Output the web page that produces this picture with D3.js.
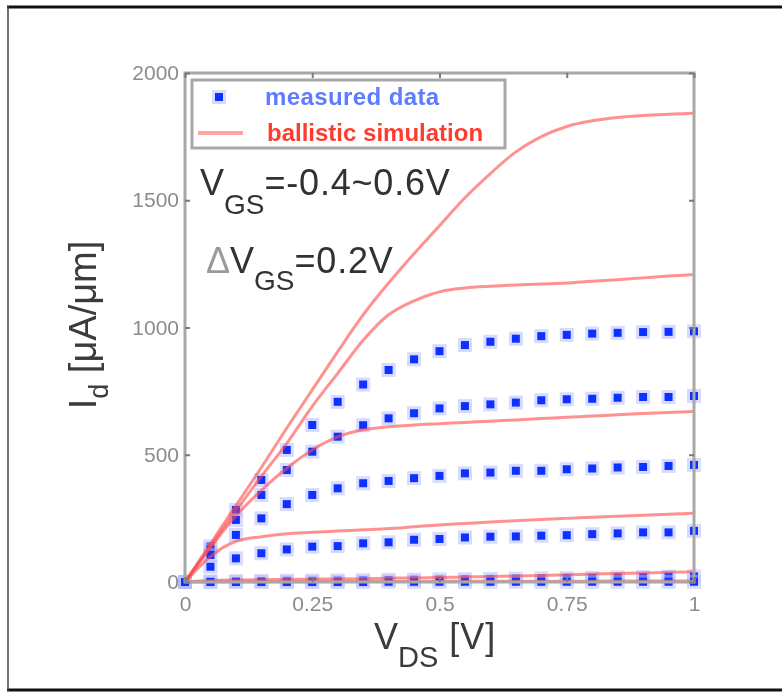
<!DOCTYPE html>
<meta charset="utf-8">
<title>Id-Vds ballistic</title>
<style>
  body { margin: 0; background: #fff; }
  svg { display: block; font-family: "Liberation Sans", Arial, sans-serif; }
  .tick text { fill: #8c8c8c; font-size: 21px; }
  .tick line { stroke: #7a7a7a; stroke-width: 2px; }
</style>
<body>
<div id="chart"></div>
<script src="https://d3js.org/d3.v7.min.js"></script>
<script>

// drain voltage points (V)
var vds = [0, 0.05, 0.1, 0.15, 0.2, 0.25, 0.3, 0.35, 0.4, 0.45, 0.5,
           0.55, 0.6, 0.65, 0.7, 0.75, 0.8, 0.85, 0.9, 0.95, 1];

var vgsSteps = ["0.6", "0.4", "0.2", "0", "-0.2", "-0.4"];

// measured Id (uA/um), one row per VGS
var measured06 = [0, 140, 283, 401, 519, 617, 708, 776, 833, 875, 907, 931, 944, 956, 966, 971, 976, 979, 982, 983, 985];
var measured04 = [0, 128, 244, 342, 440, 512, 571, 616, 643, 663, 682, 691, 698, 705, 714, 718, 720, 724, 727, 727, 731];
var measured02 = [0, 106, 185, 250, 306, 342, 368, 388, 397, 408, 417, 427, 430, 437, 437, 443, 446, 450, 452, 456, 460];
var measured00 = [0, 60, 93, 113, 128, 139, 141, 152, 156, 166, 169, 175, 178, 179, 182, 184, 188, 191, 195, 195, 201];
var measuredM02 = [0, 2, 3, 4, 5, 5, 6, 7, 8, 9, 10, 11, 12, 13, 14, 15, 16, 18, 19, 21, 22];
var measuredM04 = [0, 0, 0, 0, 0, 0, 0, 0, 1, 1, 1, 1, 1, 1, 1, 1, 1, 1, 1, 1, 1];

// ballistic simulation Id (uA/um)
var sim06 = [0, 150, 300, 450, 605, 755, 905, 1050, 1175, 1290, 1400, 1510, 1605, 1690, 1750, 1790, 1812, 1825, 1833, 1838, 1842];
var sim04 = [0, 140, 280, 415, 545, 690, 820, 950, 1050, 1105, 1140, 1155, 1162, 1167, 1171, 1175, 1182, 1188, 1195, 1202, 1208];
var sim02 = [0, 135, 260, 360, 447, 519, 570, 598, 610, 617, 622, 627, 632, 637, 642, 647, 652, 657, 662, 666, 670];
var sim00 = [0, 100, 160, 178, 190, 195, 200, 205, 210, 217, 224, 230, 236, 241, 246, 250, 254, 258, 262, 266, 270];
var simM02 = [0, 6, 8, 9, 10, 11, 12, 13, 15, 16, 18, 20, 22, 24, 26, 28, 31, 33, 35, 38, 40];
var simM04 = [0, 1, 1, 1, 1, 1, 2, 2, 2, 2, 2, 3, 3, 3, 3, 3, 3, 4, 4, 4, 4];

var xTicks = [0, 0.25, 0.5, 0.75, 1];
var xTickLabels = ["0", "0.25", "0.5", "0.75", "1"];
var yTicks = [0, 500, 1000, 1500, 2000];

var measuredSets = [measured06, measured04, measured02, measured00, measuredM02, measuredM04];
var simSets = [sim06, sim04, sim02, sim00, simM02, simM04];

var W = 782, H = 697;
var margin = {top: 73, left: 185},
    width = 509, height = 509;

var svg = d3.select("#chart").append("svg")
    .attr("width", W).attr("height", H);

// soft look like the scanned figure
var defs = svg.append("defs");
defs.append("filter").attr("id", "soft")
  .append("feGaussianBlur").attr("stdDeviation", 0.45);

// outer frame of the picture
svg.append("line").attr("x1", 7).attr("x2", W).attr("y1", 7).attr("y2", 7)
    .attr("stroke", "#111").attr("stroke-width", 3);
svg.append("line").attr("x1", 7).attr("x2", W).attr("y1", 690).attr("y2", 690)
    .attr("stroke", "#111").attr("stroke-width", 3);
svg.append("line").attr("x1", 8).attr("x2", 8).attr("y1", 6).attr("y2", 691)
    .attr("stroke", "#444").attr("stroke-width", 1.5);

var root = svg.append("g").attr("filter", "url(#soft)");
var g = root.append("g")
    .attr("transform", "translate(" + margin.left + "," + margin.top + ")");

var x = d3.scaleLinear().domain([0, 1]).range([0, width]);
var y = d3.scaleLinear().domain([0, 2000]).range([height, 0]);

// measured data squares
measuredSets.forEach(function(vals, i) {
  var pts = vds.map(function(v, j) { return {v: v, id: vals[j]}; });
  var grp = g.append("g").attr("class", "measured vgs" + i);
  grp.selectAll(".halo").data(pts).enter().append("rect")
    .attr("class", "halo")
    .attr("x", function(d) { return x(d.v) - 7; })
    .attr("y", function(d) { return y(d.id) - 7; })
    .attr("width", 14).attr("height", 14)
    .attr("fill", "#b4bdff").attr("opacity", 0.55);
  grp.selectAll(".dot").data(pts).enter().append("rect")
    .attr("class", "dot")
    .attr("x", function(d) { return x(d.v) - 4; })
    .attr("y", function(d) { return y(d.id) - 4; })
    .attr("width", 8).attr("height", 8)
    .attr("fill", "#1030ff");
});

// simulation curves
var line = d3.line()
    .x(function(d) { return x(d.v); })
    .y(function(d) { return y(d.id); })
    .curve(d3.curveMonotoneX);

simSets.forEach(function(vals, i) {
  var pts = vds.map(function(v, j) { return {v: v, id: vals[j]}; });
  g.append("path").datum(pts)
    .attr("class", "sim vgs" + i)
    .attr("fill", "none")
    .attr("stroke", "#ff4a4a")
    .attr("stroke-opacity", 0.6)
    .attr("stroke-width", 3)
    .attr("d", line);
});

// frame
g.append("rect").attr("width", width).attr("height", height)
  .attr("fill", "none").attr("stroke", "#a8a8a8").attr("stroke-width", 3);

// axes, ticks pointing inward
var fmtX = function(d) { return xTickLabels[xTicks.indexOf(d)]; };
g.append("g").attr("transform", "translate(0," + height + ")")
  .call(d3.axisBottom(x).tickValues(xTicks).tickFormat(fmtX).tickSize(-5).tickPadding(14))
  .call(function(a) { a.select(".domain").remove(); });
g.append("g")
  .call(d3.axisTop(x).tickValues(xTicks).tickFormat("").tickSize(-5))
  .call(function(a) { a.select(".domain").remove(); });
g.append("g")
  .call(d3.axisLeft(y).tickValues(yTicks).tickFormat(d3.format("d")).tickSize(-5).tickPadding(6))
  .call(function(a) { a.select(".domain").remove(); });
g.append("g").attr("transform", "translate(" + width + ",0)")
  .call(d3.axisRight(y).tickValues(yTicks).tickFormat("").tickSize(-5))
  .call(function(a) { a.select(".domain").remove(); });
g.selectAll(".tick text").attr("fill", "#8c8c8c").style("font-size", "21px");

// legend
var lg = root.append("g");
lg.append("rect").attr("x", 192).attr("y", 80).attr("width", 313).attr("height", 68)
  .attr("fill", "#fff").attr("stroke", "#a8a8a8").attr("stroke-width", 3);
lg.append("rect").attr("x", 219 - 7).attr("y", 97 - 7).attr("width", 14).attr("height", 14)
  .attr("fill", "#b4bdff").attr("opacity", 0.55);
lg.append("rect").attr("x", 219 - 4).attr("y", 97 - 4).attr("width", 8).attr("height", 8)
  .attr("fill", "#1030ff");
lg.append("text").attr("x", 265).attr("y", 105)
  .attr("font-size", 24).attr("font-weight", "bold").attr("fill", "#5d7bff")
  .attr("letter-spacing", 0.4)
  .text("measured data");
lg.append("line").attr("x1", 198).attr("x2", 243).attr("y1", 133).attr("y2", 133)
  .attr("stroke", "#ffa3a3").attr("stroke-width", 4);
lg.append("text").attr("x", 267).attr("y", 141)
  .attr("font-size", 24).attr("font-weight", "bold").attr("fill", "#ff3b2e")
  .text("ballistic simulation");

// annotations
var t1 = root.append("text").attr("x", 200).attr("y", 195)
  .attr("font-size", 36).attr("fill", "#333");
t1.append("tspan").text("V");
t1.append("tspan").attr("font-size", 28).attr("dy", 19).text("GS");
t1.append("tspan").attr("dy", -19).attr("letter-spacing", 0.8).text("=-0.4~0.6V");

var t2 = root.append("text").attr("x", 206).attr("y", 273)
  .attr("font-size", 36).attr("fill", "#333");
t2.append("tspan").attr("fill", "#9a9a9a").text("\u0394");
t2.append("tspan").text("V");
t2.append("tspan").attr("font-size", 28).attr("dy", 17).text("GS");
t2.append("tspan").attr("dy", -17).attr("letter-spacing", 0.8).text("=0.2V");

// axis titles
var yl = root.append("text")
  .attr("transform", "translate(96,325) rotate(-90)")
  .attr("text-anchor", "middle")
  .attr("font-size", 38).attr("fill", "#3a3a3a");
yl.append("tspan").text("I");
yl.append("tspan").attr("font-size", 27).attr("dy", 12).text("d");
yl.append("tspan").attr("dy", -12).text(" [\u03bcA/\u03bcm]");

var xl = root.append("text").attr("x", 374).attr("y", 649)
  .attr("font-size", 36).attr("fill", "#3a3a3a");
xl.append("tspan").text("V");
xl.append("tspan").attr("font-size", 29).attr("dy", 18).text("DS");
xl.append("tspan").attr("dy", -18).attr("letter-spacing", 1).text(" [V]");

</script>
</body>
